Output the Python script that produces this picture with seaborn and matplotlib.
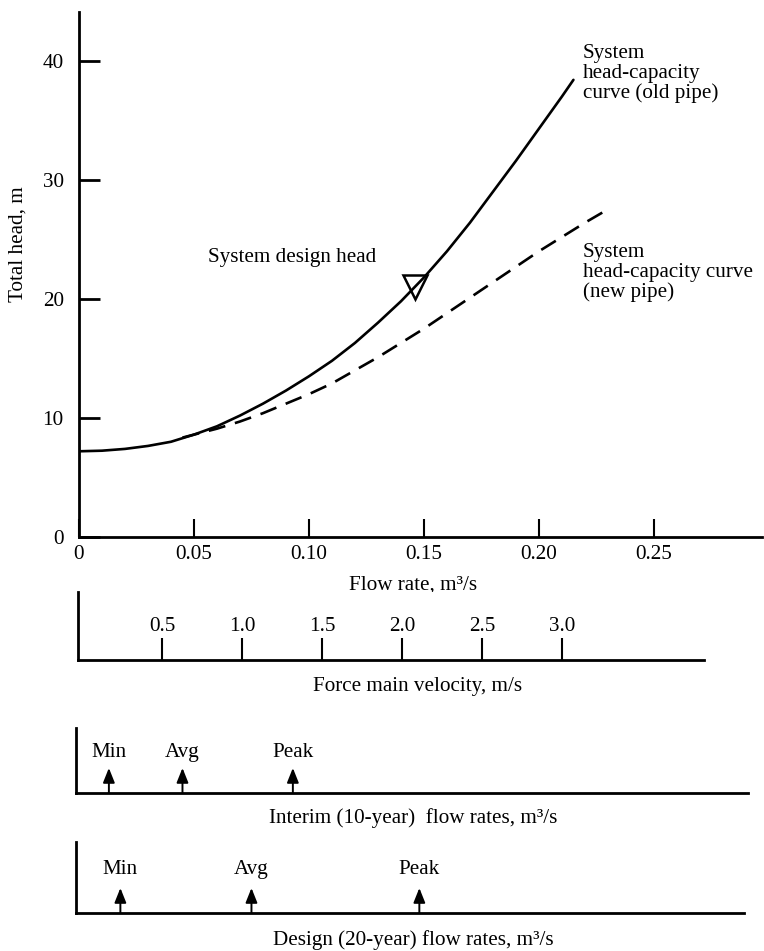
import matplotlib
matplotlib.use("Agg")
import matplotlib.pyplot as plt
import seaborn as sns

# System head-capacity curves (flow in m^3/s, head in m)
flow_old = [0.0, 0.01, 0.02, 0.03, 0.04, 0.05, 0.06, 0.07, 0.08, 0.09, 0.10, 0.11,
            0.12, 0.13, 0.14, 0.15, 0.16, 0.17, 0.18, 0.19, 0.20, 0.21, 0.215]
head_old = [7.2, 7.25, 7.4, 7.65, 8.0, 8.6, 9.3, 10.2, 11.2, 12.3, 13.5, 14.8,
            16.3, 18.0, 19.8, 21.8, 24.0, 26.4, 29.0, 31.6, 34.3, 37.0, 38.4]
flow_new = [0.045, 0.05, 0.06, 0.07, 0.08, 0.09, 0.10, 0.11, 0.12, 0.13, 0.14,
            0.15, 0.16, 0.17, 0.18, 0.19, 0.20, 0.21, 0.22, 0.228]
head_new = [8.35, 8.6, 9.1, 9.7, 10.4, 11.2, 12.0, 12.9, 14.0, 15.1, 16.3,
            17.5, 18.8, 20.1, 21.4, 22.7, 24.0, 25.2, 26.4, 27.3]

# Design operating point
design_flow = 0.146
design_head = 21.0

# Axis ticks
flow_ticks = [0, 0.05, 0.10, 0.15, 0.20, 0.25]
flow_tick_labels = ["0", "0.05", "0.10", "0.15", "0.20", "0.25"]
head_ticks = [0, 10, 20, 30, 40]
velocity_ticks = [0.5, 1.0, 1.5, 2.0, 2.5, 3.0]
velocity_tick_labels = ["0.5", "1.0", "1.5", "2.0", "2.5", "3.0"]

# Flow-rate markers (m^3/s)
rate_names = ["Min", "Avg", "Peak"]
interim_rates = [0.013, 0.045, 0.093]
design_rates = [0.018, 0.075, 0.148]

sns.set_style("white")
plt.rcParams["font.family"] = ["Liberation Serif", "DejaVu Serif"]
plt.rcParams["text.color"] = "black"
plt.rcParams["axes.labelcolor"] = "black"
plt.rcParams["xtick.color"] = "black"
plt.rcParams["ytick.color"] = "black"

FS = 15.2
W, H = 764, 951
fig = plt.figure(figsize=(W / 100, H / 100), dpi=100)


def axes_px(left, top, right, bottom):
    return fig.add_axes([left / W, 1 - bottom / H, (right - left) / W, (bottom - top) / H])


def style_axes(ax):
    for side in ("top", "right"):
        ax.spines[side].set_visible(False)
    for side in ("left", "bottom"):
        ax.spines[side].set_linewidth(2.0)
        ax.spines[side].set_color("black")


# ---- main head-capacity chart ----
ax = axes_px(79, 12, 762, 537)
sns.lineplot(x=flow_old, y=head_old, ax=ax, color="black", linewidth=1.9)
sns.lineplot(x=flow_new, y=head_new, ax=ax, color="black", linewidth=1.9,
             linestyle=(0, (6.5, 3.8)))
ax.plot([design_flow], [design_head], marker="v", markersize=17, markerfacecolor="none",
        markeredgecolor="black", markeredgewidth=1.8, linestyle="none")
ax.set_xlim(0, 0.297)
ax.set_ylim(0, 44.1)
style_axes(ax)
ax.set_xticks(flow_ticks, flow_tick_labels)
ax.set_yticks(head_ticks, [str(t) for t in head_ticks])
ax.tick_params(axis="x", bottom=True, direction="in", length=13, width=1.5, pad=6,
               labelsize=FS, colors="black")
ax.tick_params(axis="y", left=True, direction="in", length=15, width=2, pad=11,
               labelsize=FS, colors="black")
ax.set_xlabel("Flow rate, m³/s", fontsize=FS)
ax.xaxis.set_label_coords(0.489, -0.074)
ax.set_ylabel("Total head, m", fontsize=FS)
ax.yaxis.set_label_coords(-0.075, 0.558)

ax.text(0.0561, 23.5, "System design head", fontsize=FS, va="center", ha="left")
ax.text(0.219, 41.4, "System\nhead-capacity\ncurve (old pipe)", fontsize=FS,
        va="top", ha="left", linespacing=1.05)
ax.text(0.219, 24.7, "System\nhead-capacity curve\n(new pipe)", fontsize=FS,
        va="top", ha="left", linespacing=1.05)

# ---- force main velocity scale ----
axv = axes_px(78, 592, 762, 660)
axv.set_xlim(-0.025, 4.25)
axv.set_ylim(0, 1)
style_axes(axv)
axv.spines["bottom"].set_bounds(-0.025, 3.89)
axv.set_yticks([])
axv.set_xticks(velocity_ticks, velocity_tick_labels)
axv.tick_params(axis="x", bottom=True, direction="in", length=16, width=1.5, pad=-31,
                labelsize=FS, colors="black")
axv.set_xlabel("Force main velocity, m/s", fontsize=FS)
axv.xaxis.set_label_coords(0.496, -0.25)


# ---- flow-rate marker scales ----
def rate_scale(top, bottom, right_end, rates, label, label_y, tip_y, title_y):
    a = axes_px(76, top, 762, bottom)
    a.set_xlim(-0.0013, 0.297)
    a.set_ylim(0, 1)
    style_axes(a)
    a.spines["bottom"].set_bounds(-0.0013, right_end)
    a.set_xticks([])
    a.set_yticks([])
    for name, q in zip(rate_names, rates):
        a.text(q, label_y, name, fontsize=FS, ha="center", va="center",
               transform=a.get_xaxis_transform())
        a.annotate("", xy=(q, tip_y), xytext=(q, 0.0),
                   xycoords=("data", "axes fraction"),
                   textcoords=("data", "axes fraction"),
                   arrowprops=dict(arrowstyle="-|>,head_length=0.55,head_width=0.22",
                                   color="black", lw=1.4, shrinkA=0, shrinkB=0,
                                   mutation_scale=16))
    a.set_xlabel(label, fontsize=FS)
    a.xaxis.set_label_coords(0.491, title_y)
    return a


rate_scale(728, 793, 0.291, interim_rates, "Interim (10-year)  flow rates, m³/s",
           0.63, 0.385, -0.23)
rate_scale(842, 913, 0.289, design_rates, "Design (20-year) flow rates, m³/s",
           0.606, 0.352, -0.24)

fig.savefig("out.png", dpi=100)
